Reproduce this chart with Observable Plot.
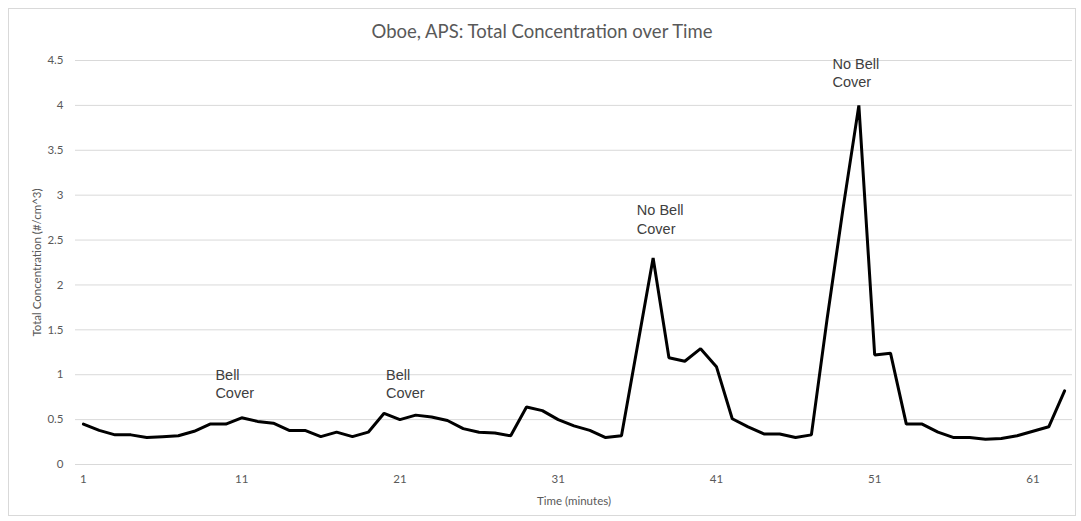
<!DOCTYPE html>
<html>
<head>
<meta charset="utf-8">
<script src="https://cdn.jsdelivr.net/npm/d3@7"></script>
<script src="https://cdn.jsdelivr.net/npm/@observablehq/plot@0.6"></script>
<style>
  html, body { margin: 0; padding: 0; background: #fff; }
  #wrap { position: relative; width: 1081px; height: 521px; overflow: hidden; }
  #border { position: absolute; left: 8px; top: 8px; width: 1068px; height: 508px; border: 1px solid #d9d9d9; box-sizing: border-box; }
  #title { position: absolute; left: 8px; width: 1068px; top: 20px; text-align: center; font-family: Lato, "Open Sans", sans-serif; font-size: 18.5px; color: #595959; }
  #chart { position: absolute; left: 0; top: 0; }
</style>
</head>
<body>
<div id="wrap">
  <div id="border"></div>
  <div id="chart"></div>
  <div id="title">Oboe, APS: Total Concentration over Time</div>
</div>
<script>
const minutes = d3.range(1, 64);
const concentration = [
  0.45, 0.38, 0.33, 0.33, 0.30, 0.31, 0.32, 0.37, 0.45, 0.45,
  0.52, 0.48, 0.46, 0.38, 0.38, 0.31, 0.36, 0.31, 0.36, 0.57,
  0.50, 0.55, 0.53, 0.49, 0.40, 0.36, 0.35, 0.32, 0.64, 0.60,
  0.50, 0.43, 0.38, 0.30, 0.32, 1.31, 2.30, 1.19, 1.15, 1.29,
  1.09, 0.51, 0.42, 0.34, 0.34, 0.30, 0.33, 1.63, 2.85, 4.00,
  1.22, 1.24, 0.45, 0.45, 0.36, 0.30, 0.30, 0.28, 0.29, 0.32,
  0.37, 0.42, 0.82
];
const xTicks = [1, 11, 21, 31, 41, 51, 61];
const yTicks = [0, 0.5, 1, 1.5, 2, 2.5, 3, 3.5, 4, 4.5];
const noteText = ["Bell\nCover", "Bell\nCover", "No Bell\nCover", "No Bell\nCover"];
const noteMinute = [9.34, 20.12, 35.97, 48.33];
const noteValue = [1.09, 1.09, 2.92, 4.55];

const data = minutes.map((m, i) => ({minute: m, value: concentration[i]}));
const notes = noteText.map((t, i) => ({text: t, minute: noteMinute[i], value: noteValue[i]}));

const chart = Plot.plot({
  width: 1081,
  height: 521,
  marginLeft: 75,
  marginRight: 9,
  marginTop: 60,
  marginBottom: 57,
  style: {fontFamily: "Lato, 'Open Sans', sans-serif", background: "transparent", overflow: "visible"},
  x: {domain: [0.5, 63.5]},
  y: {domain: [0, 4.5]},
  marks: [
    Plot.gridY(yTicks, {stroke: "#d9d9d9", strokeOpacity: 1, strokeWidth: 1}),
    Plot.axisX(xTicks, {
      tickSize: 0, tickPadding: 10, fontSize: 11.5, color: "#595959",
      label: "Time (minutes)", labelAnchor: "center", labelArrow: "none", labelOffset: 40
    }),
    Plot.axisY(yTicks, {
      tickSize: 0, tickPadding: 12, fontSize: 11.5, color: "#595959",
      tickFormat: d3.format("~g"),
      label: "Total Concentration (#/cm^3)", labelAnchor: "center", labelArrow: "none", labelOffset: 43
    }),
    Plot.line(data, {x: "minute", y: "value", stroke: "#000", strokeWidth: 3, strokeLinejoin: "miter"}),
    Plot.text(notes, {
      x: "minute", y: "value", text: "text",
      textAnchor: "start", lineAnchor: "top", lineHeight: 1.26,
      fontSize: 14.5, fill: "#404040", fontFamily: "'Liberation Sans', Arial, sans-serif"
    })
  ]
});
document.getElementById("chart").appendChild(chart);
</script>
</body>
</html>
